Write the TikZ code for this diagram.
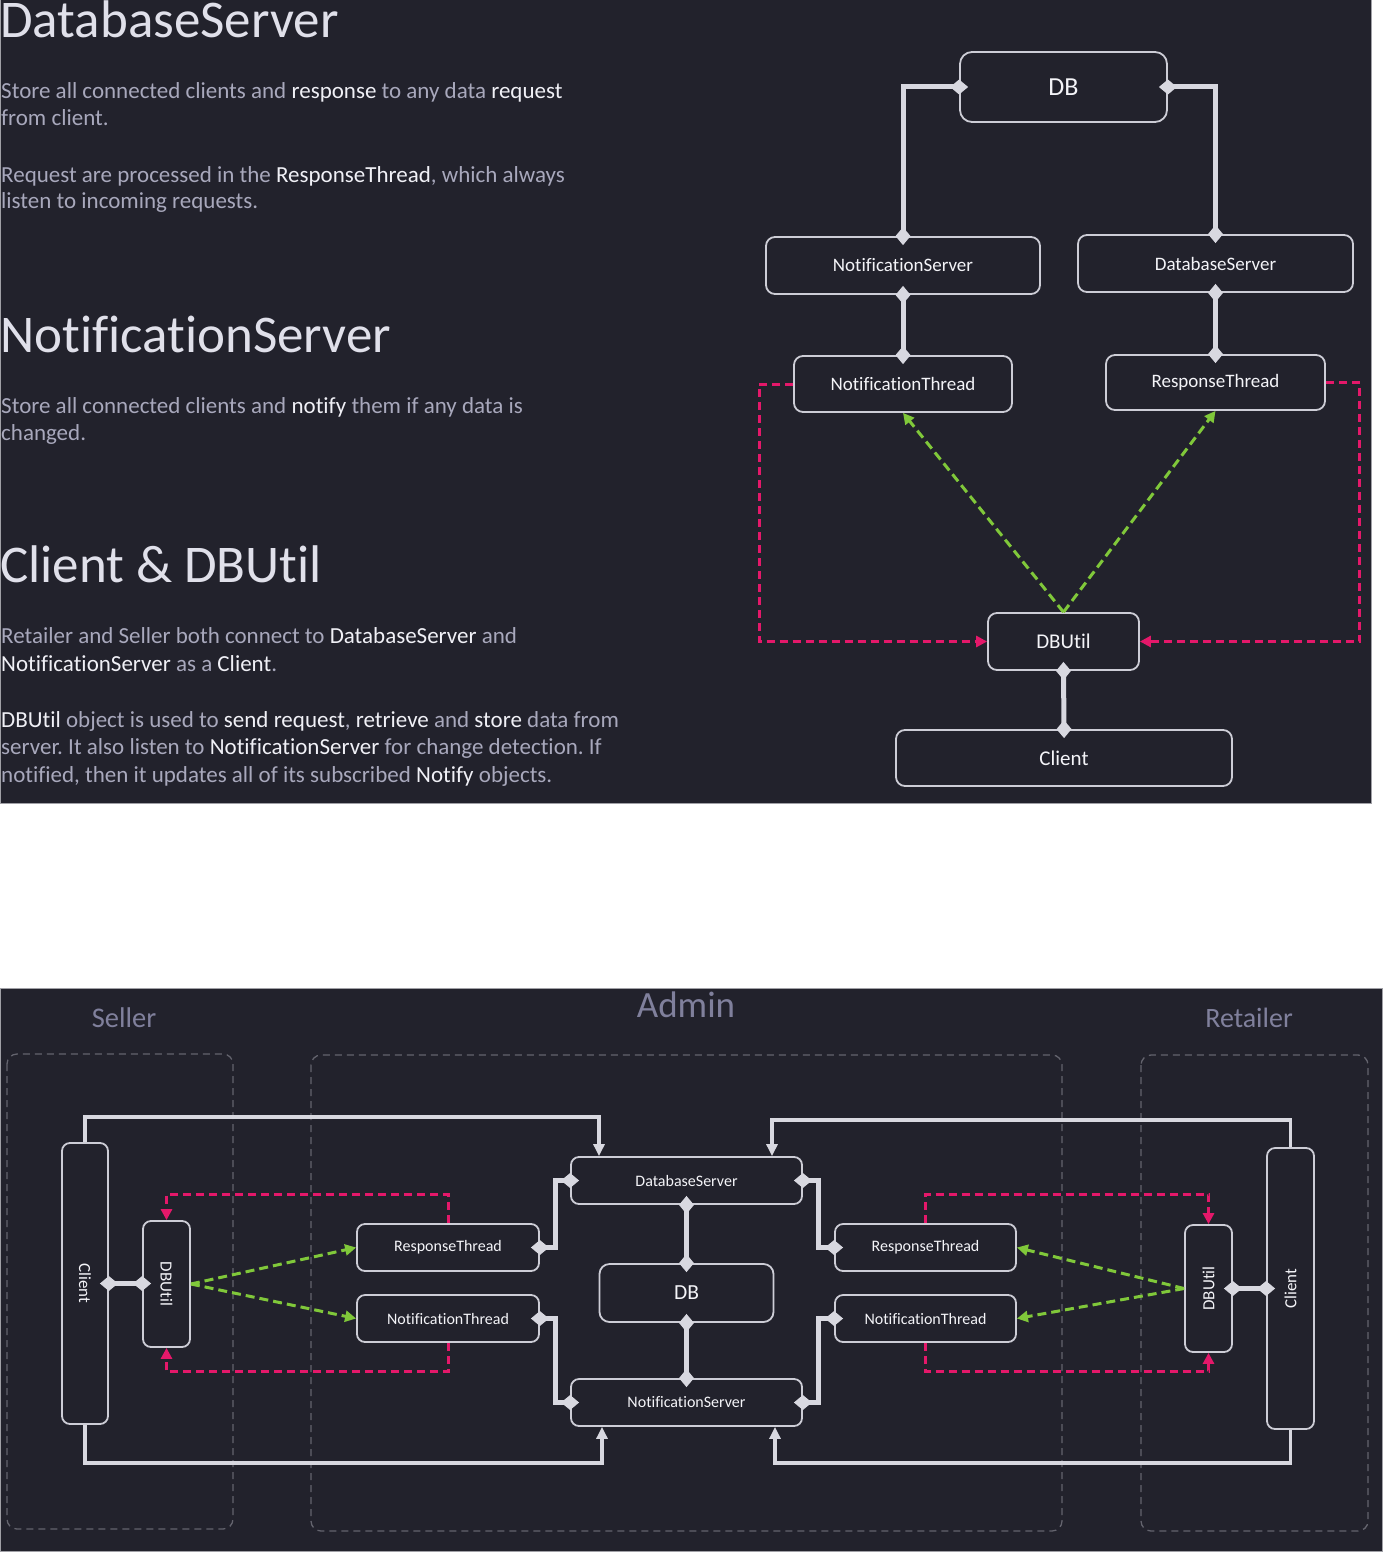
\documentclass[tikz,border=0pt]{standalone}
\usepackage{fontspec}
\setmainfont{Carlito}[Ligatures=CommonOff]
\usetikzlibrary{arrows.meta}

\definecolor{bgc}{RGB}{34,34,44}
\definecolor{edgec}{RGB}{160,160,166}
\definecolor{boxc}{RGB}{205,205,214}
\definecolor{linkc}{RGB}{216,216,224}
\definecolor{txtc}{RGB}{244,244,248}
\definecolor{headc}{RGB}{224,224,234}
\definecolor{bodyc}{RGB}{168,168,188}
\definecolor{kwc}{RGB}{240,240,246}
\definecolor{titc}{RGB}{128,128,156}
\definecolor{grpc}{RGB}{100,100,110}
\definecolor{greenc}{RGB}{128,200,58}
\definecolor{pinkc}{RGB}{228,24,106}

\newcommand\kw[1]{\textcolor{kwc}{#1}}
\frenchspacing

\begin{document}
\begin{tikzpicture}[x=1pt,y=-1pt,
  box/.style={draw=boxc,line width=1.8pt,rounded corners=9pt,fill=bgc,text=txtc,inner sep=0pt},
  link/.style={draw=linkc,line width=5pt,{Diamond[length=18pt,width=15pt]}-{Diamond[length=18pt,width=15pt]},shorten <=-9pt,shorten >=-9pt},
  flow/.style={draw=linkc,line width=3.5pt,-{Triangle[length=12pt,width=11pt]}},
  poll/.style={draw=greenc,line width=3pt,dash pattern=on 9pt off 5pt,-{Triangle[length=11pt,width=11pt]}},
  push/.style={draw=pinkc,line width=3pt,dash pattern=on 8pt off 5pt,-{Triangle[length=11pt,width=11pt]}},
  grp/.style={draw=grpc,line width=1.3pt,dash pattern=on 7pt off 5pt,rounded corners=10pt},
  head/.style={inner sep=0pt,anchor=base west,text=headc,font=\fontsize{53}{60}\selectfont},
  body/.style={inner sep=0pt,anchor=base west,text=bodyc,font=\fontsize{23}{27.5}\selectfont},
  tit/.style={inner sep=0pt,anchor=base,text=titc}]
  \useasboundingbox (0,0) rectangle (1382,1554);
  \fill[bgc,draw=edgec,line width=1pt] (0,0) rectangle (1371,803);
  \fill[bgc,draw=edgec,line width=1pt] (0,988) rectangle (1382,1551);

  % text column
  \node[head] (hds) at (0,38) {DatabaseServer};
  \node[body] (ds1) at (1,99) {Store all connected clients and \kw{response} to any data \kw{request}};
  \node[body] (ds2) at (1,126) {from client.};
  \node[body] (ds3) at (1,183) {Request are processed in the \kw{ResponseThread}, which always};
  \node[body] (ds4) at (1,209) {listen to incoming requests.};
  \node[head] (hns) at (0,352) {NotificationServer};
  \node[body] (ns1) at (1,413) {Store all connected clients and \kw{notify} them if any data is};
  \node[body] (ns2) at (1,440) {changed.};
  \node[head] (hcl) at (0,582) {Client \& DBUtil};
  \node[body] (cl1) at (1,643) {Retailer and Seller both connect to \kw{DatabaseServer} and};
  \node[body] (cl2) at (1,671) {\kw{NotificationServer} as a \kw{Client}.};
  \node[body] (cl3) at (1,727) {\kw{DBUtil} object is used to \kw{send request}, \kw{retrieve} and \kw{store} data from};
  \node[body] (cl4) at (1,754) {server. It also listen to \kw{NotificationServer} for change detection. If};
  \node[body] (cl5) at (1,782) {notified, then it updates all of its subscribed \kw{Notify} objects.};

  % single client view
  \node[box,rounded corners=12pt,minimum width=207,minimum height=70,font=\fontsize{26}{30}\selectfont] (db) at (1063.5,87) {DB};
  \node[box,minimum width=274,minimum height=57,font=\fontsize{19}{22}\selectfont] (ns) at (903,265.5) {NotificationServer};
  \node[box,minimum width=275,minimum height=57,font=\fontsize{19}{22}\selectfont] (ds) at (1215.5,263.5) {DatabaseServer};
  \node[box,minimum width=218,minimum height=56,font=\fontsize{19}{22}\selectfont] (nt) at (903,384) {NotificationThread};
  \node[box,minimum width=219,minimum height=55,font=\fontsize{19}{22}\selectfont] (rt) at (1215.5,382.5) {ResponseThread};
  \node[box,minimum width=151,minimum height=57,font=\fontsize{21}{24}\selectfont] (dbu) at (1063.5,641.5) {DBUtil};
  \node[box,minimum width=336,minimum height=56,font=\fontsize{21}{24}\selectfont] (cl) at (1064,758) {Client};

  \draw[link] (db.west) -| (ns.north);
  \draw[link] (db.east) -| (ds.north);
  \draw[link] (ns.south) -- (nt.north);
  \draw[link] (ds.south) -- (rt.north);
  \draw[link] (dbu.south) -- (cl.north);
  \draw[poll] (dbu.north) -- (nt.south);
  \draw[poll] (dbu.north) -- (rt.south);
  \draw[push] (nt.west) -- ++(-34,0) |- (dbu.west);
  \draw[push] (rt.east) -- ++(34,0) |- (dbu.east);

  % whole system
  \node[tit,font=\fontsize{37}{40}\selectfont] (tadm) at (686,1017) {Admin};
  \node[tit,font=\fontsize{28.5}{32}\selectfont] (tsel) at (124,1027) {Seller};
  \node[tit,font=\fontsize{28}{32}\selectfont] (tret) at (1249,1027) {Retailer};
  \draw[grp] (7,1054) rectangle (233,1529);
  \draw[grp] (311,1055) rectangle (1062,1531);
  \draw[grp] (1141,1055) rectangle (1368,1531);

  \node[box,rounded corners=8pt,minimum width=46,minimum height=281,label={[rotate=-90,text=txtc,font=\fontsize{17}{20}\selectfont]center:Client}] (scl) at (85,1283.5) {};
  \node[box,rounded corners=8pt,minimum width=47,minimum height=126,label={[rotate=-90,text=txtc,font=\fontsize{17}{20}\selectfont]center:DBUtil}] (sdbu) at (166.5,1284) {};
  \node[box,rounded corners=8pt,minimum width=182,minimum height=47,font=\fontsize{16}{19}\selectfont] (lrt) at (448,1247.5) {ResponseThread};
  \node[box,rounded corners=8pt,minimum width=182,minimum height=47,font=\fontsize{16}{19}\selectfont] (lnt) at (448,1318.5) {NotificationThread};
  \node[box,rounded corners=8pt,minimum width=231,minimum height=47,font=\fontsize{16}{19}\selectfont] (dsv) at (686.5,1180.5) {DatabaseServer};
  \node[box,rounded corners=10pt,minimum width=174,minimum height=58,font=\fontsize{21.5}{24}\selectfont] (dbv) at (686.5,1293) {DB};
  \node[box,rounded corners=8pt,minimum width=231,minimum height=47,font=\fontsize{16}{19}\selectfont] (nsv) at (686.5,1402.5) {NotificationServer};
  \node[box,rounded corners=8pt,minimum width=181,minimum height=47,font=\fontsize{16}{19}\selectfont] (rrt) at (925.5,1247.5) {ResponseThread};
  \node[box,rounded corners=8pt,minimum width=181,minimum height=47,font=\fontsize{16}{19}\selectfont] (rnt) at (925.5,1318.5) {NotificationThread};
  \node[box,rounded corners=8pt,minimum width=47,minimum height=127,label={[rotate=90,text=txtc,font=\fontsize{17}{20}\selectfont]center:DBUtil}] (rdbu) at (1208.5,1288.5) {};
  \node[box,rounded corners=8pt,minimum width=47,minimum height=281,label={[rotate=90,text=txtc,font=\fontsize{17}{20}\selectfont]center:Client}] (rcl) at (1290.5,1288.5) {};

  \draw[flow] (scl.north) -- ++(0,-25) -| ([xshift=-87.5]dsv.north);
  \draw[flow] (scl.south) -- ++(0,38) -| ([xshift=-84.5]nsv.south);
  \draw[flow] (rcl.north) -- ++(0,-27) -| ([xshift=85.5]dsv.north);
  \draw[flow] (rcl.south) -- ++(0,33) -| ([xshift=88.5]nsv.south);

  \draw[link] (scl.east) -- (scl.east -| sdbu.west);
  \draw[link] (rdbu.east) -- (rdbu.east -| rcl.west);
  \draw[link] (dsv.south) -- (dbv.north);
  \draw[link] (dbv.south) -- (nsv.north);
  \draw[link] (lrt.east) -- ++(16,0) |- (dsv.west);
  \draw[link] (lnt.east) -- ++(16,0) |- (nsv.west);
  \draw[link] (dsv.east) -- ++(16,0) |- (rrt.west);
  \draw[link] (nsv.east) -- ++(16,0) |- (rnt.west);

  \draw[poll] (sdbu.east) -- (lrt.west);
  \draw[poll] (sdbu.east) -- (lnt.west);
  \draw[poll] (rdbu.west) -- (rrt.east);
  \draw[poll] (rdbu.west) -- (rnt.east);
  \draw[push] (lrt.north) -- ++(0,-29) -| (sdbu.north);
  \draw[push] (lnt.south) -- ++(0,29) -| (sdbu.south);
  \draw[push] (rrt.north) -- ++(0,-29) -| (rdbu.north);
  \draw[push] (rnt.south) -- ++(0,29) -| (rdbu.south);
\end{tikzpicture}
\end{document}
